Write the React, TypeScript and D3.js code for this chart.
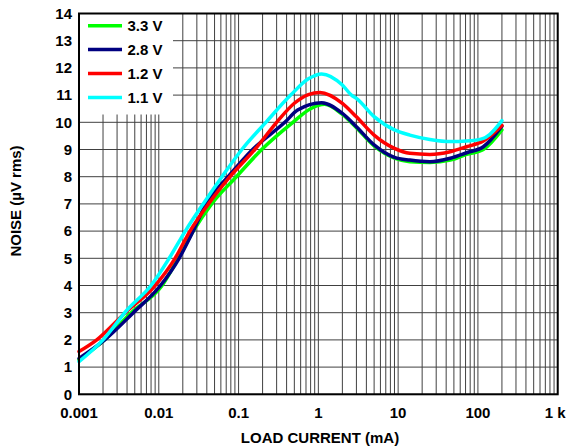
import React from "react";
import * as d3 from "d3";

const W = 567;
const H = 448;

const xTickValues = [0.001, 0.01, 0.1, 1, 10, 100, 1000];
const xTickLabels = ["0.001", "0.01", "0.1", "1", "10", "100", "1 k"];
const yTickValues = [0, 1, 2, 3, 4, 5, 6, 7, 8, 9, 10, 11, 12, 13, 14];

const seriesNames = ["3.3 V", "2.8 V", "1.2 V", "1.1 V"];
const seriesColors = ["#00ff00", "#000080", "#ff0000", "#00ffff"];

// [load current mA, noise µV rms]
const v33: [number, number][] = [
  [0.001, 1.27], [0.002, 1.95], [0.0045, 3.0], [0.011, 4.0], [0.0175, 5.0],
  [0.027, 6.0], [0.046, 7.0], [0.094, 8.0], [0.195, 9.0], [0.48, 10.0],
  [0.8, 10.5], [1.2, 10.66], [2, 10.29], [3, 9.8], [5, 9.13], [9, 8.68],
  [14, 8.55], [25, 8.52], [45, 8.61], [72, 8.82], [117, 9.0], [200, 9.72],
];
const v28: [number, number][] = [
  [0.001, 1.32], [0.0021, 2.0], [0.0048, 3.0], [0.0105, 4.0], [0.018, 5.0],
  [0.027, 6.0], [0.039, 7.0], [0.074, 8.0], [0.15, 9.0], [0.38, 10.0],
  [0.55, 10.45], [1.1, 10.72], [2, 10.33], [3, 9.84], [5, 9.17], [9, 8.71],
  [14, 8.61], [25, 8.55], [45, 8.68], [72, 8.88], [117, 9.1], [200, 9.86],
];
const v12: [number, number][] = [
  [0.001, 1.57], [0.00167, 2.0], [0.0038, 3.0], [0.009, 4.0], [0.016, 5.0],
  [0.0246, 6.0], [0.042, 7.0], [0.078, 8.0], [0.16, 9.0], [0.3, 10.0],
  [0.5, 10.7], [0.75, 11.02], [1.05, 11.1], [2, 10.7], [3, 10.2], [5, 9.53],
  [9, 9.04], [14, 8.86], [25, 8.82], [45, 8.92], [72, 9.1], [117, 9.31], [200, 9.88],
];
const v11: [number, number][] = [
  [0.001, 1.2], [0.002, 2.0], [0.004, 3.1], [0.008, 4.0], [0.0135, 5.0],
  [0.0215, 6.0], [0.036, 7.0], [0.062, 8.0], [0.11, 9.0], [0.22, 10.0],
  [0.45, 11.0], [0.75, 11.6], [1.1, 11.78], [2, 11.37], [2.6, 11.0], [3, 10.88],
  [5, 10.21], [9, 9.72], [14, 9.53], [25, 9.37], [45, 9.29], [72, 9.31],
  [117, 9.41], [140, 9.55], [200, 10.06],
];
const seriesData = [v33, v28, v12, v11];

export default function App() {
  const x = d3.scaleLog().domain([0.001, 1000]).range([79, 557.7]);
  const y = d3.scaleLinear().domain([0, 14]).range([394.3, 13.5]);
  const [x0, x1] = x.range();
  const [y0, y1] = y.range();

  const vGrid: number[] = [];
  for (let e = -3; e < 3; e++) {
    for (let m = 1; m <= 9; m++) vGrid.push(m * Math.pow(10, e));
  }
  vGrid.push(1000);

  const legendBox = { x: x0, y: y1, w: 94, h: 101 };

  const line = d3
    .line<[number, number]>()
    .x((d) => x(d[0]))
    .y((d) => y(d[1]))
    .curve(d3.curveMonotoneX);

  const font = "'Liberation Sans', Arial, sans-serif";

  return (
    <svg
      width={W}
      height={H}
      style={{ position: "absolute", left: 0, top: 0, background: "#fff" }}
      fontFamily={font}
    >
      <rect x={0} y={0} width={W} height={H} fill="#fff" />
      <g stroke="#404040" strokeWidth={1}>
        {vGrid.map((v, i) => (
          <line key={"v" + i} x1={x(v)} x2={x(v)} y1={y0} y2={y1} />
        ))}
        {yTickValues.map((v) => (
          <line key={"h" + v} x1={x0} x2={x1} y1={y(v)} y2={y(v)} />
        ))}
      </g>
      <rect x={legendBox.x} y={legendBox.y} width={legendBox.w} height={legendBox.h} fill="#fff" />
      <g fill="none" strokeWidth={3.5} strokeLinejoin="round" strokeLinecap="round">
        {seriesData.map((s, i) => (
          <path key={i} d={line(s) || ""} stroke={seriesColors[i]} />
        ))}
      </g>
      <rect x={x0} y={y1} width={x1 - x0} height={y0 - y1} fill="none" stroke="#000" strokeWidth={2} />
      <g>
        {seriesNames.map((n, i) => (
          <g key={n}>
            <line x1={88} x2={122} y1={25.7 + i * 23.9} y2={25.7 + i * 23.9} stroke={seriesColors[i]} strokeWidth={3.5} />
            <text x={127.5} y={31 + i * 23.9} fontSize={15} fontWeight="bold" fill="#000">
              {n}
            </text>
          </g>
        ))}
      </g>
      <g fontSize={15} fontWeight="bold" textAnchor="end" fill="#000">
        {yTickValues.map((v) => (
          <text key={v} x={72} y={y(v) + 5.2}>
            {v}
          </text>
        ))}
      </g>
      <g fontSize={15} fontWeight="bold" textAnchor="middle" fill="#000">
        {xTickValues.map((v, i) => (
          <text key={v} x={i === xTickValues.length - 1 ? x(v) - 2.5 : x(v)} y={418}>
            {xTickLabels[i]}
          </text>
        ))}
      </g>
      <text x={320} y={443} fontSize={15} fontWeight="bold" textAnchor="middle" fill="#000">
        LOAD CURRENT (mA)
      </text>
      <text
        transform={`translate(21, 201) rotate(-90)`}
        fontSize={15}
        fontWeight="bold"
        textAnchor="middle"
        fill="#000"
      >
        NOISE (µV rms)
      </text>
    </svg>
  );
}
